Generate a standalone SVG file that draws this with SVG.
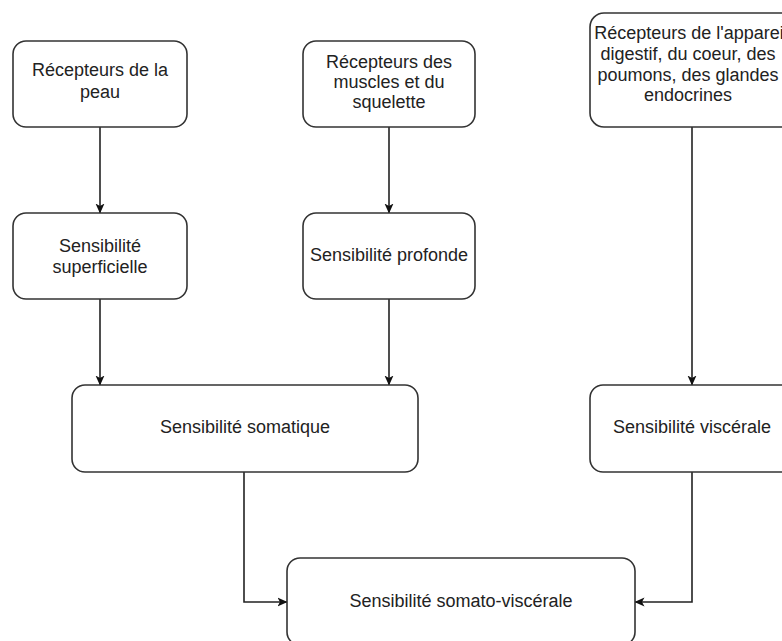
<svg xmlns="http://www.w3.org/2000/svg" width="782" height="641" viewBox="0 0 782 641">
  <style>
    .box { fill: #ffffff; stroke: #333333; stroke-width: 1.6; }
    .lbl { font-family: "Liberation Sans", Arial, sans-serif; font-size: 18px; fill: #222222; text-anchor: middle; }
    .edge { fill: none; stroke: #222222; stroke-width: 1.6; marker-end: url(#arrow); }
  </style>
  <defs>
    <marker id="arrow" viewBox="0 0 10 10" refX="9.5" refY="5" markerWidth="10" markerHeight="10" markerUnits="userSpaceOnUse" orient="auto">
      <path d="M0,0.5 L10,5 L0,9.5 L2.5,5 Z" fill="#111111"/>
    </marker>
  </defs>
  <rect width="782" height="641" fill="#ffffff"/>

  <g id="connectors">
    <path class="edge" d="M100,127 L100,213"/>
    <path class="edge" d="M389,127 L389,213"/>
    <path class="edge" d="M100,299 L100,385"/>
    <path class="edge" d="M389,299 L389,385"/>
    <path class="edge" d="M692,127 L692,385"/>
    <path class="edge" d="M244,472 L244,602 L287,602"/>
    <path class="edge" d="M692,472 L692,602 L635,602"/>
  </g>

  <g id="recepteurs-peau">
    <rect class="box" x="13" y="41" width="174" height="86" rx="13"/>
    <text class="lbl" x="100" y="76">Récepteurs de la</text>
    <text class="lbl" x="100" y="98">peau</text>
  </g>

  <g id="recepteurs-muscles">
    <rect class="box" x="303" y="41" width="172" height="86" rx="13"/>
    <text class="lbl" x="389" y="68">Récepteurs des</text>
    <text class="lbl" x="389" y="88">muscles et du</text>
    <text class="lbl" x="389" y="108">squelette</text>
  </g>

  <g id="recepteurs-appareil">
    <rect class="box" x="590" y="13" width="206" height="114" rx="14"/>
    <text class="lbl" x="691" y="39">Récepteurs de l'appareil</text>
    <text class="lbl" x="688" y="60">digestif, du coeur, des</text>
    <text class="lbl" x="688" y="81">poumons, des glandes</text>
    <text class="lbl" x="688" y="101">endocrines</text>
  </g>

  <g id="sensibilite-superficielle">
    <rect class="box" x="13" y="213" width="174" height="86" rx="13"/>
    <text class="lbl" x="100" y="252">Sensibilité</text>
    <text class="lbl" x="100" y="273">superficielle</text>
  </g>

  <g id="sensibilite-profonde">
    <rect class="box" x="303" y="213" width="172" height="86" rx="13"/>
    <text class="lbl" x="389" y="261">Sensibilité profonde</text>
  </g>

  <g id="sensibilite-somatique">
    <rect class="box" x="72" y="385" width="346" height="87" rx="13"/>
    <text class="lbl" x="245" y="433">Sensibilité somatique</text>
  </g>

  <g id="sensibilite-viscerale">
    <rect class="box" x="590" y="385" width="206" height="87" rx="13"/>
    <text class="lbl" x="692" y="433">Sensibilité viscérale</text>
  </g>

  <g id="sensibilite-somato-viscerale">
    <rect class="box" x="287" y="558" width="348" height="87" rx="13"/>
    <text class="lbl" x="461" y="607">Sensibilité somato-viscérale</text>
  </g>
</svg>
